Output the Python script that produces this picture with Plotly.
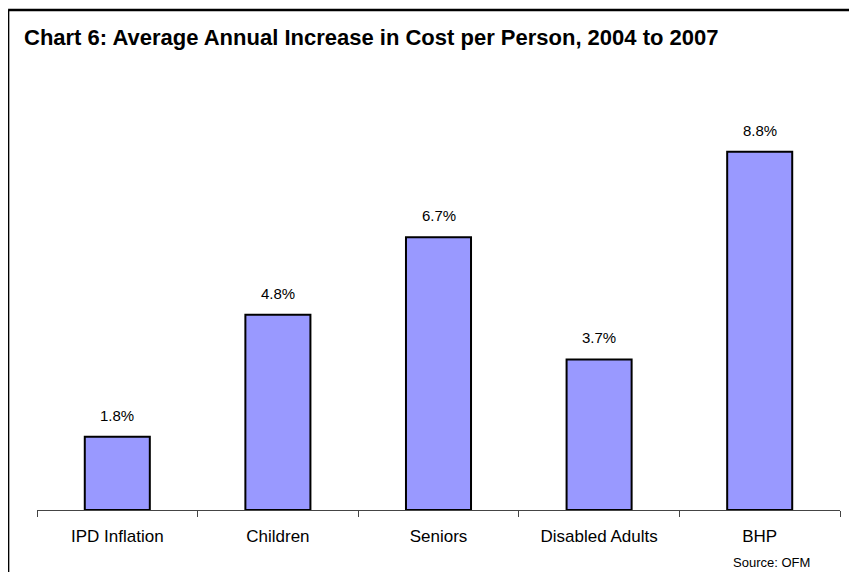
import plotly.graph_objects as go

categories = ["IPD Inflation", "Children", "Seniors", "Disabled Adults", "BHP"]
values = [1.8, 4.8, 6.7, 3.7, 8.8]
value_labels = ["1.8%", "4.8%", "6.7%", "3.7%", "8.8%"]

title_text = "Chart 6: Average Annual Increase in Cost per Person, 2004 to 2007"
source_text = "Source: OFM"

fig = go.Figure()
fig.add_trace(go.Bar(
    x=categories, y=values,
    marker=dict(color="#9999FF", line=dict(color="black", width=2)),
    width=0.405,
    hoverinfo="skip",
))

for c, v, t in zip(categories, values, value_labels):
    fig.add_annotation(x=c, y=v, text=t, showarrow=False, yanchor="bottom",
                       yshift=11, font=dict(family="Arial, Liberation Sans", size=15, color="black"))

fig.add_annotation(xref="paper", yref="paper", x=0.915, y=-0.130, text=source_text,
                   showarrow=False, xanchor="center", yanchor="middle",
                   font=dict(family="Arial, Liberation Sans", size=13, color="black"))

fig.add_annotation(xref="paper", yref="paper", x=-0.0187, y=1.162,
                   text="<b>" + title_text + "</b>", showarrow=False,
                   xanchor="left", yanchor="middle",
                   font=dict(family="Liberation Sans Narrow, Arial Narrow, Arial, Liberation Sans", size=22, color="black"))

# frame border (top and left)
fig.add_shape(type="line", xref="paper", yref="paper", x0=-0.036, x1=1.1, y0=1.2285, y1=1.2285,
              line=dict(color="black", width=2.5))
fig.add_shape(type="line", xref="paper", yref="paper", x0=-0.036, x1=-0.036, y0=1.2285, y1=-0.3,
              line=dict(color="black", width=2.5))

fig.update_layout(
    width=849, height=564,
    margin=dict(l=29, r=17, t=95, b=62),
    plot_bgcolor="white", paper_bgcolor="white",
    showlegend=False,
    bargap=0.595,
    xaxis=dict(showline=True, linecolor="#444444", linewidth=1,
               ticks="outside", tickson="boundaries", ticklen=6, tickcolor="#444444",
               ticklabelstandoff=11,
               tickfont=dict(family="Arial, Liberation Sans", size=17, color="black"),
               showgrid=False, fixedrange=True),
    yaxis=dict(range=[0, 10], visible=False, showgrid=False, fixedrange=True),
)

fig.write_html("out.html")
